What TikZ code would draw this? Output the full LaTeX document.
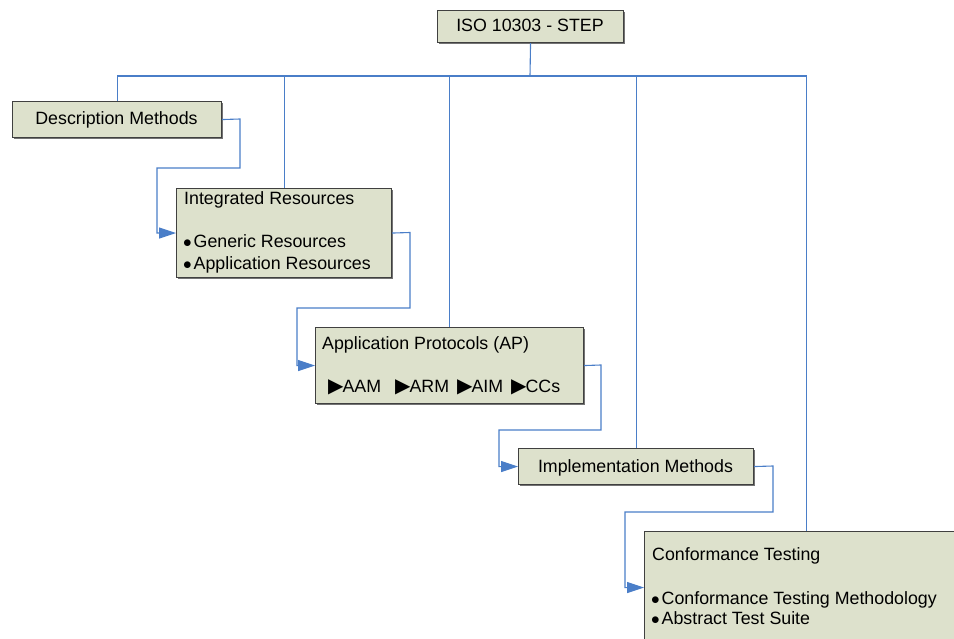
\documentclass[tikz,border=0pt]{standalone}
\usepackage{fontspec}
\setmainfont{Liberation Sans}
\newfontfamily\symfont{DejaVu Sans}
\usetikzlibrary{arrows.meta,shadows}
\definecolor{boxfill}{HTML}{DDE1CC}
\definecolor{boxline}{HTML}{404040}
\definecolor{linkblue}{HTML}{4A7EC8}
\newcommand\mybul{\makebox[10.5pt][l]{$\bullet$}}
\newcommand\mytri{{\symfont\fontsize{20}{20}\selectfont ▶}\kern-1pt}
\begin{document}
\begin{tikzpicture}[x=1pt,y=-1pt,
  box/.style={draw=boxline, fill=boxfill, line width=1.1pt, rectangle, inner sep=0pt, anchor=north west,
    drop shadow={shadow xshift=1.2pt, shadow yshift=-1.2pt, fill=black!55, opacity=1}},
  txt/.style={inner sep=0pt, font=\fontsize{17.8}{21}\selectfont, text=black},
  bus/.style={draw=linkblue, line width=1.1pt},
  link/.style={draw=linkblue, line width=1.1pt, -{Triangle[length=17pt,width=11pt,fill=linkblue]}}]
\clip (0,0) rectangle (954,639);
\useasboundingbox (0,0) rectangle (954,639);
% boxes
\node[box, minimum width=186pt, minimum height=32pt] (iso) at (437,10) {};
\node[box, minimum width=209pt, minimum height=36pt] (dm) at (12,101) {};
\node[box, minimum width=215pt, minimum height=89pt] (ir) at (176,188) {};
\node[box, minimum width=268pt, minimum height=76pt] (ap) at (315,327) {};
\node[box, minimum width=235pt, minimum height=36pt] (im) at (518,448) {};
\node[box, minimum width=324pt, minimum height=112pt] (ct) at (644,531) {};
% texts
\node[txt, anchor=base] (isot) at (530,32) {ISO 10303 - STEP};
\node[txt, anchor=base] (dmt) at (116.5,125) {Description Methods};
\node[txt, anchor=base west] (irt) at (184,205) {Integrated Resources};
\node[txt, anchor=base west] (irb1) at (183,248) {\mybul Generic Resources};
\node[txt, anchor=base west] (irb2) at (183,270) {\mybul Application Resources};
\node[txt, anchor=base west] (apt) at (322,349) {Application Protocols (AP)};
\node[txt, anchor=base west] (ap1) at (328,392) {\mytri AAM};
\node[txt, anchor=base west] (ap2) at (395,392) {\mytri ARM};
\node[txt, anchor=base west] (ap3) at (457,392) {\mytri AIM};
\node[txt, anchor=base west] (ap4) at (511,392) {\mytri CCs};
\node[txt, anchor=base] (imt) at (635.5,472) {Implementation Methods};
\node[txt, anchor=base west] (ctt) at (652,560) {Conformance Testing};
\node[txt, anchor=base west] (ctb1) at (651,604) {\mybul Conformance Testing Methodology};
\node[txt, anchor=base west] (ctb2) at (651,624) {\mybul Abstract Test Suite};
% hierarchy
\coordinate (busc) at (530,76);
\draw[bus] (iso.south) -- (busc);
\draw[bus] (busc) -| (dm.north);
\draw[bus] (busc) -| (ir.north);
\draw[bus] (busc) -| (ap.north);
\draw[bus] (busc) -| (im.north);
\draw[bus] (busc) -| (ct.north);
% sequence links
\draw[link] (dm.east) -- (240,119) |- (157,168) |- (ir.west);
\draw[link] (ir.east) -- (410,232.5) |- (297,308) |- (ap.west);
\draw[link] (ap.east) -- (601,365) |- (499,430) |- (im.west);
\draw[link] (im.east) -- (773,466) |- (625,512) |- (ct.west);
\end{tikzpicture}
\end{document}
